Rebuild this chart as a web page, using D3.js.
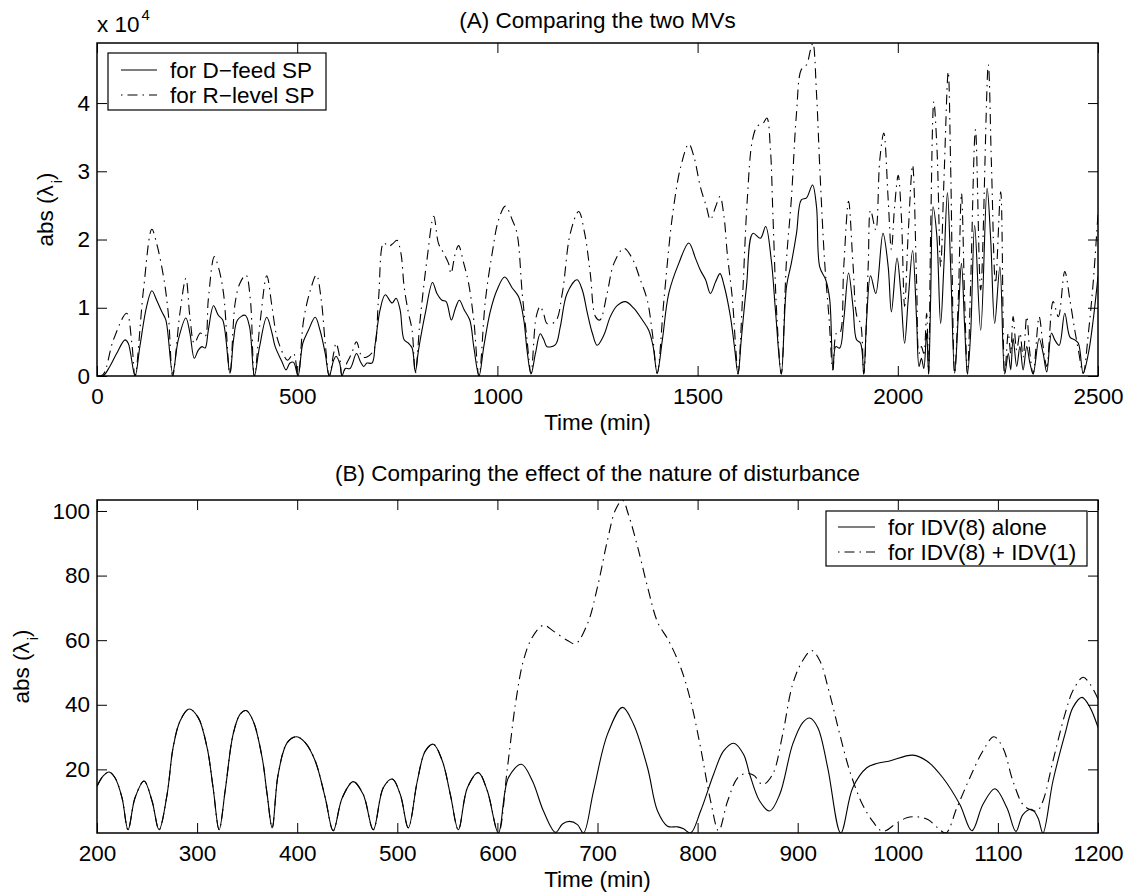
<!DOCTYPE html>
<html><head><meta charset="utf-8">
<script src="https://cdn.jsdelivr.net/npm/d3@7"></script>
<style>
body{margin:0;background:#fff}
text{font-family:"Liberation Sans",Arial,Helvetica,sans-serif;fill:#000}
</style>
</head><body>
<svg id="c" width="1134" height="896"></svg>
<script>
// ---------------- DATA ----------------
// Panel A: time (min) vs abs(lambda_i) in units of 10^4
const dFeedSP = [[0,0],[15,0],[32,0.14],[49,0.33],[70,0.53],[78,0.48],[95,0],[107,0.43],[124,1.02],[137,1.25],[149,1.11],[162,0.94],[172,0.82],[189,0.04],[203,0.53],[222,0.85],[232,0.63],[243,0.26],[253,0.38],[262,0.43],[270,0.41],[278,0.67],[291,1.03],[303,0.89],[314,0.82],[332,0.04],[341,0.53],[351,0.82],[370,0.89],[381,0.72],[393,0],[406,0.43],[424,0.86],[437,0.63],[445,0.43],[462,0.21],[472,0.09],[482,0.19],[491,0.2],[502,0],[514,0.48],[528,0.67],[545,0.86],[557,0.67],[570,0.33],[580,0],[591,0.23],[597,0.29],[606,0.19],[612,0],[620,0.11],[632,0.11],[648,0.33],[658,0.21],[666,0.14],[674,0.19],[687,0.19],[695,0.48],[707,0.97],[720,1.19],[737,1.07],[747,1.14],[757,0.97],[767,0.53],[778,0.48],[787,0.41],[795,0.06],[803,0.38],[820,0.92],[838,1.37],[849,1.21],[862,1.11],[872,1.09],[885,0.82],[895,0.99],[905,1.11],[917,0.97],[931,0.82],[941,0.43],[954,0],[966,0.43],[982,0.94],[999,1.26],[1018,1.45],[1037,1.29],[1053,1.16],[1066,0.82],[1074,0.38],[1084,0.03],[1095,0.33],[1107,0.62],[1116,0.53],[1124,0.43],[1145,0.46],[1157,0.72],[1174,1.21],[1199,1.41],[1212,1.26],[1224,0.94],[1237,0.63],[1249,0.45],[1266,0.6],[1282,0.87],[1299,1.03],[1320,1.09],[1341,0.99],[1362,0.82],[1378,0.67],[1389,0.43],[1399,0.04],[1412,0.53],[1428,1.21],[1453,1.65],[1478,1.95],[1495,1.72],[1507,1.55],[1520,1.41],[1532,1.21],[1545,1.38],[1556,1.5],[1566,1.33],[1582,0.87],[1592,0.43],[1601,0.03],[1609,0.53],[1622,1.31],[1638,2.09],[1657,2.02],[1670,2.19],[1684,1.7],[1695,0.92],[1709,0.03],[1722,1.31],[1734,1.65],[1747,2.09],[1759,2.58],[1772,2.61],[1787,2.8],[1797,2.48],[1805,1.6],[1820,1.41],[1830,1.12],[1838,0.09],[1845,0.43],[1855,0.41],[1865,0.82],[1877,1.51],[1888,1.02],[1897,0.53],[1907,0.48],[1915,0.03],[1922,0.82],[1932,1.47],[1945,1.21],[1963,2.09],[1976,1.6],[1984,0.94],[1998,1.73],[2007,1.26],[2017,0.48],[2026,1.12],[2037,1.84],[2047,0.82],[2053,0.14],[2059,0.26],[2065,0.11],[2072,0.63],[2077,0.03],[2082,1.12],[2088,2.48],[2097,2.09],[2107,0.77],[2115,1.6],[2124,2.69],[2132,1.6],[2142,0.04],[2151,0.87],[2159,1.65],[2167,0.72],[2174,0.03],[2182,0.63],[2192,2.21],[2207,0.67],[2223,2.75],[2232,2],[2242,0.77],[2255,1.6],[2267,0.03],[2276,0.33],[2282,0.09],[2288,0.55],[2297,0.14],[2305,0.43],[2313,0.09],[2322,0.43],[2330,0.19],[2338,0.03],[2353,0.55],[2363,0.33],[2372,0.06],[2384,0.63],[2392,0.53],[2403,0.45],[2417,0.92],[2430,0.57],[2442,0.53],[2451,0.48],[2463,0.04],[2476,0.33],[2488,0.82],[2500,1.46]];

const rLevelSP = [[0,0],[15,0.02],[41,0.53],[74,0.92],[87,0.48],[95,0],[116,1.26],[137,2.15],[149,1.94],[166,1.46],[178,0.92],[189,0],[207,0.92],[222,1.43],[232,0.87],[243,0.48],[258,0.63],[270,0.58],[278,1.12],[293,1.75],[303,1.6],[316,1.21],[332,0.04],[345,1.07],[357,1.36],[372,1.48],[383,1.12],[393,0],[408,0.82],[424,1.47],[437,1.02],[449,0.58],[466,0.31],[476,0.23],[491,0.33],[502,0],[516,0.82],[533,1.26],[548,1.48],[560,1.12],[570,0.48],[580,0],[591,0.33],[597,0.48],[606,0.28],[612,0],[624,0.19],[636,0.33],[648,0.5],[662,0.28],[674,0.28],[691,0.38],[703,1.12],[716,1.95],[728,1.9],[739,1.94],[749,1.99],[759,1.8],[767,1.31],[778,0.92],[787,0.67],[795,0.04],[807,0.82],[824,1.7],[841,2.34],[853,1.94],[866,1.8],[878,1.65],[884,1.5],[895,1.8],[903,1.91],[916,1.65],[928,1.36],[941,0.82],[954,0],[970,1.11],[987,1.8],[1003,2.29],[1020,2.49],[1037,2.29],[1049,2.09],[1062,1.21],[1074,0.53],[1084,0.04],[1097,0.87],[1107,1.02],[1116,0.9],[1124,0.77],[1145,0.8],[1162,1.21],[1182,2.09],[1203,2.41],[1218,2.09],[1232,1.5],[1245,0.87],[1256,0.82],[1274,1.21],[1291,1.65],[1316,1.87],[1337,1.72],[1357,1.41],[1374,1.12],[1387,0.63],[1399,0.04],[1416,1.12],[1437,2.34],[1458,3.07],[1478,3.4],[1491,3.21],[1507,2.77],[1522,2.48],[1532,2.29],[1545,2.48],[1556,2.63],[1566,2.33],[1574,1.8],[1587,1.12],[1595,0.43],[1601,0.03],[1612,1.12],[1624,2.58],[1637,3.46],[1649,3.66],[1663,3.7],[1673,3.78],[1682,3.31],[1688,2.38],[1698,0.87],[1709,0.03],[1722,1.7],[1734,2.58],[1747,3.85],[1759,4.49],[1772,4.56],[1782,4.78],[1788,4.88],[1797,4.14],[1805,3.07],[1817,1.7],[1828,0.87],[1838,0.09],[1847,0.63],[1855,0.63],[1865,1.6],[1877,2.56],[1888,1.65],[1898,0.87],[1907,0.77],[1915,0.03],[1926,1.6],[1932,2.43],[1945,2.14],[1955,3.17],[1965,3.56],[1976,2.58],[1984,1.85],[1992,2.48],[2001,2.94],[2009,2.33],[2017,1.02],[2026,2.09],[2037,3.09],[2047,1.37],[2053,0.33],[2059,0.43],[2065,0.33],[2072,0.92],[2077,0.03],[2082,2.09],[2090,4.02],[2098,3.31],[2107,1.6],[2115,2.83],[2126,4.46],[2132,3.07],[2142,0.04],[2151,1.11],[2159,2.68],[2167,1.11],[2174,0.03],[2182,1.36],[2194,3.61],[2207,1.26],[2226,4.56],[2234,3.07],[2244,1.36],[2257,2.7],[2267,0.03],[2276,0.63],[2282,0.33],[2288,0.87],[2297,0.38],[2305,0.63],[2313,0.28],[2322,0.87],[2330,0.33],[2338,0.03],[2353,0.87],[2363,0.43],[2372,0.14],[2388,1.09],[2401,0.87],[2417,1.53],[2430,1.11],[2442,0.67],[2451,0.38],[2463,0.04],[2476,0.63],[2488,1.37],[2500,2.38]];

// Panel B: time (min) vs abs(lambda_i)
const idv8Alone = [[200,14.8],[206,17.9],[212,19.2],[218,17.4],[225,11.2],[231,1.3],[238,11.2],[247,16.4],[255,10.2],[262,1.3],[270,12.2],[276,26.7],[283,35.0],[292,38.7],[301,36.1],[310,26.7],[316,14.3],[322,1.3],[328,13.3],[336,30.9],[343,37.1],[349,38.2],[356,35.0],[365,23.6],[370,12.2],[375,1.9],[381,18.5],[390,28.3],[399,30.1],[408,28.3],[418,22.6],[428,11.2],[436,1.0],[445,11.2],[456,16.2],[466,12.2],[476,1.3],[486,14.3],[495,17.0],[503,12.2],[511,1.9],[520,16.4],[528,25.7],[536,27.8],[545,22.6],[553,12.2],[561,1.3],[570,14.3],[581,19.0],[590,13.3],[601,0.3],[611,17.4],[624,21.6],[635,16.4],[646,7.1],[658,0.5],[665,3.1],[672,3.9],[680,2.9],[686,0.3],[696,13.3],[710,30.9],[725,39.2],[736,34.0],[750,20.5],[760,7.1],[770,2.4],[780,2.2],[786,1.6],[793,0.3],[803,7.1],[816,18.5],[826,25.7],[836,28.1],[846,24.6],[852,18.5],[862,10.2],[872,7.1],[882,12.2],[895,27.8],[905,34.5],[912,35.9],[920,33.0],[930,20.5],[943,0.3],[955,14.3],[969,20.5],[979,21.8],[992,22.6],[1015,24.4],[1029,22.6],[1045,17.4],[1062,9.1],[1074,1.0],[1085,9.1],[1097,14.0],[1109,8.1],[1118,0.8],[1125,6.0],[1134,7.6],[1140,5.0],[1145,0.3],[1155,16.4],[1167,30.9],[1175,39.2],[1184,42.3],[1192,39.2],[1200,33.0]];

const idv8PlusIdv1 = [[200,14.8],[206,17.9],[212,19.2],[218,17.4],[225,11.2],[231,1.3],[238,11.2],[247,16.4],[255,10.2],[262,1.3],[270,12.2],[276,26.7],[283,35.0],[292,38.7],[301,36.1],[310,26.7],[316,14.3],[322,1.3],[328,13.3],[336,30.9],[343,37.1],[349,38.2],[356,35.0],[365,23.6],[370,12.2],[375,1.9],[381,18.5],[390,28.3],[399,30.1],[408,28.3],[418,22.6],[428,11.2],[436,1.0],[445,11.2],[456,16.2],[466,12.2],[476,1.3],[486,14.3],[495,17.0],[503,12.2],[511,1.9],[520,16.4],[528,25.7],[536,27.8],[545,22.6],[553,12.2],[561,1.3],[570,14.3],[581,19.0],[590,13.3],[601,0.3],[610,20.5],[618,40.2],[626,53.7],[635,61.0],[646,64.6],[656,62.8],[670,59.9],[678,58.9],[690,65.1],[700,76.5],[710,91.0],[718,100.4],[725,103.3],[731,98.8],[740,89.0],[750,76.5],[760,65.6],[771,59.9],[783,51.6],[793,41.3],[803,26.7],[813,10.2],[821,1.0],[830,10.2],[840,17.4],[848,18.7],[856,18.2],[865,15.3],[875,18.5],[885,30.9],[895,46.4],[905,53.7],[914,56.8],[922,53.7],[932,43.3],[942,30.9],[952,19.5],[964,9.6],[975,3.9],[985,0.8],[999,3.4],[1009,5.0],[1019,5.3],[1030,4.5],[1040,1.9],[1048,0.3],[1059,8.1],[1072,17.4],[1085,25.7],[1096,30.1],[1105,26.7],[1115,16.4],[1125,9.1],[1132,7.6],[1139,7.1],[1145,10.2],[1155,22.6],[1167,37.1],[1175,44.4],[1185,48.5],[1192,46.4],[1200,41.8]];

// Axis ticks and labels
const xTicksA = [0,500,1000,1500,2000,2500];
const yTicksA = [0,1,2,3,4];
const xTicksB = [200,300,400,500,600,700,800,900,1000,1100,1200];
const yTicksB = [20,40,60,80,100];
const legendA = ["for D\u2212feed SP","for R\u2212level SP"];
const legendB = ["for IDV(8) alone","for IDV(8) + IDV(1)"];
const titleA = "(A) Comparing the two MVs";
const titleB = "(B) Comparing the effect of the nature of disturbance";
const xLabel = "Time (min)";

// ---------------- DRAW ----------------
const svg = d3.select("#c");
svg.append("rect").attr("width",1134).attr("height",896).attr("fill","#fff");
const FS = 22.5;
const DASH = "10,5,1.5,5";
const fmt = d3.format("d");

function panel(o){
  const x = d3.scaleLinear().domain(o.xDomain).range([o.left,o.right]);
  const y = d3.scaleLinear().domain(o.yDomain).range([o.bottom,o.top]);
  const g = svg.append("g");
  const cid = "clip"+o.id;
  svg.append("defs").append("clipPath").attr("id",cid).append("rect")
    .attr("x",o.left).attr("y",o.top).attr("width",o.right-o.left).attr("height",o.bottom-o.top);

  const line = d3.line().x(d=>x(d[0])).y(d=>y(d[1])).curve(d3.curveCatmullRom.alpha(0.5));
  o.series.forEach(s=>{
    g.append("path").datum(s.data).attr("clip-path",`url(#${cid})`)
      .attr("d",line).attr("fill","none").attr("stroke","#000")
      .attr("stroke-width",1.1).attr("stroke-dasharray",s.dash||null);
  });

  const TL = 10;
  const ax = (gen, tr) => { const a = g.append("g").attr("transform",tr).call(gen); a.select(".domain").remove(); return a; };
  ax(d3.axisBottom(x).tickValues(o.xTicks).tickSizeInner(-TL).tickSizeOuter(0).tickPadding(12).tickFormat(fmt), `translate(0,${o.bottom})`);
  ax(d3.axisTop(x).tickValues(o.xTicks).tickSizeInner(-TL).tickSizeOuter(0).tickFormat(""), `translate(0,${o.top})`);
  ax(d3.axisLeft(y).tickValues(o.yTicks).tickSizeInner(-TL).tickSizeOuter(0).tickPadding(7).tickFormat(fmt), `translate(${o.left},0)`);
  ax(d3.axisRight(y).tickValues(o.yTicks).tickSizeInner(-TL).tickSizeOuter(0).tickFormat(""), `translate(${o.right},0)`);
  g.selectAll(".tick line").attr("stroke","#000").attr("stroke-width",1);
  g.selectAll(".tick text").attr("font-size",FS).attr("font-family","Liberation Sans, Arial, sans-serif").attr("fill","#000");

  g.append("rect").attr("x",o.left).attr("y",o.top).attr("width",o.right-o.left).attr("height",o.bottom-o.top)
    .attr("fill","none").attr("stroke","#000").attr("stroke-width",1.5);

  // title
  svg.append("text").attr("x",(o.left+o.right)/2).attr("y",o.titleY).attr("text-anchor","middle")
    .attr("font-size",FS).text(o.title);
  // x label
  svg.append("text").attr("x",(o.left+o.right)/2).attr("y",o.bottom+54).attr("text-anchor","middle")
    .attr("font-size",FS).text(xLabel);
  // y label with subscript
  const yl = svg.append("text").attr("transform",`translate(${o.yLabelX},${(o.top+o.bottom)/2}) rotate(-90)`)
    .attr("text-anchor","middle").attr("font-size",FS);
  yl.append("tspan").text("abs (\u03bb");
  yl.append("tspan").attr("font-size",15).attr("dy",9).attr("dx",2).text("i");
  yl.append("tspan").attr("dy",-9).text(")");

  // legend
  const L = o.legend;
  g.append("rect").attr("x",L.x).attr("y",L.y).attr("width",L.w).attr("height",L.h)
    .attr("fill","#fff").attr("stroke","#000").attr("stroke-width",1.2);
  L.labels.forEach((lab,i)=>{
    const cy = L.y + L.row0 + i*L.rowH;
    g.append("line").attr("x1",L.x+L.sx0).attr("x2",L.x+L.sx1).attr("y1",cy).attr("y2",cy)
      .attr("stroke","#000").attr("stroke-width",1.1)
      .attr("stroke-dasharray",o.series[i].dash||null)
      .attr("stroke-dashoffset",o.series[i].dash? 15 : null);
    g.append("text").attr("x",L.x+L.tx).attr("y",cy+8).attr("font-size",FS).text(lab);
  });
  return {x,y};
}

// Panel A
panel({
  id:"A", left:97, right:1098, top:43, bottom:376,
  xDomain:[0,2500], yDomain:[0,4.88],
  xTicks:xTicksA, yTicks:yTicksA,
  series:[{data:dFeedSP},{data:rLevelSP,dash:DASH}],
  title:titleA, titleY:28, yLabelX:53,
  legend:{x:108,y:53,w:218,h:57,row0:17,rowH:25,sx0:13,sx1:49,tx:62,labels:legendA}
});
// exponent label
const ex = svg.append("text").attr("x",97).attr("y",32).attr("font-size",FS);
ex.append("tspan").text("x 10");
ex.append("tspan").attr("font-size",15).attr("dy",-12).attr("dx",2).text("4");

// Panel B
panel({
  id:"B", left:97, right:1098, top:500, bottom:833,
  xDomain:[200,1200], yDomain:[0.3,103.4],
  xTicks:xTicksB, yTicks:yTicksB,
  series:[{data:idv8Alone},{data:idv8PlusIdv1,dash:DASH}],
  title:titleB, titleY:481, yLabelX:29,
  legend:{x:826,y:511,w:261,h:55,row0:16,rowH:25,sx0:12,sx1:49,tx:62,labels:legendB}
});
</script>
</body></html>
